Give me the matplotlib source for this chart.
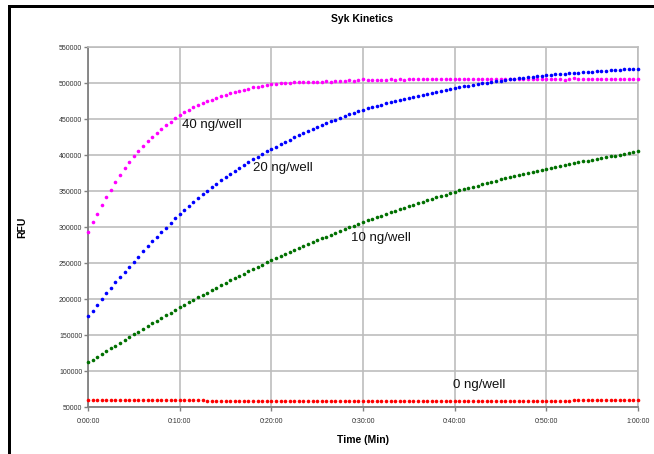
import matplotlib
matplotlib.use("Agg")
import matplotlib.pyplot as plt
from matplotlib.patches import Rectangle
import numpy as np

plt.rcParams["font.family"] = ["Liberation Sans", "DejaVu Sans"]

# reads every 30 s, 0..60 min
TIME_MIN = np.arange(121) * 0.5

RFU_40 = [
    293500, 306500, 318000, 330000, 341000, 352000, 362500, 372500, 381500, 390500,
    398000, 406000, 413000, 419500, 425500, 431000, 436000, 441000, 446500, 451500,
    456000, 460000, 463000, 466000, 469000, 472000, 474500, 477000, 479500, 481500,
    483500, 485500, 487500, 489000, 490500, 492000, 494000, 495000, 496000, 497500,
    498500, 499000, 499500, 500500, 500500, 501000, 501000, 501500, 501500, 501500,
    502000, 502000, 502500, 502000, 502500, 503000, 503000, 503500, 503000, 504500,
    505000, 503500, 504000, 504500, 504000, 504500, 505000, 504500, 505000, 504500,
    505000, 505500, 505000, 505500, 505000, 505500, 505000, 505500, 505500, 505000,
    505500, 505000, 505500, 505000, 505500, 505000, 506000, 505500, 506000, 505500,
    506000, 505500, 505000, 505500, 505500, 505000, 505500, 505000, 505500, 505000,
    506000, 505500, 505000, 505500, 504500, 505000, 506500, 506000, 505500, 506000,
    505500, 506000, 505500, 506000, 506000, 505500, 506000, 506000, 505500, 506000,
    506000,
]
RFU_20 = [
    176500, 184000, 192000, 200000, 208000, 215500, 223500, 231000, 238000, 245000,
    252000, 259000, 266000, 273000, 280000, 286000, 293000, 299000, 305500, 312000,
    317500, 323500, 329000, 334500, 340000, 345500, 350500, 355000, 360000, 365000,
    369500, 374000, 378000, 382500, 386000, 390000, 394000, 397500, 401500, 405000,
    408500, 411800, 415000, 418200, 421400, 424500, 427500, 430400, 433300, 436100,
    438900, 441600, 444200, 446700, 449200, 451600, 454000, 456300, 458500, 460600,
    462700, 464600, 466500, 468300, 470000, 471700, 473400, 475000, 476500, 478000,
    479500, 481000, 482400, 483800, 485200, 486600, 487900, 489200, 490500, 491700,
    492900, 494100, 495200, 496300, 497300, 498400, 499400, 500400, 501300, 502300,
    503200, 504000, 504900, 505700, 506500, 507200, 508000, 508700, 509400, 510000,
    510700, 511300, 511900, 512400, 513000, 513500, 514000, 514500, 515000, 515500,
    515900, 516400, 516800, 517200, 517600, 518000, 518400, 518800, 519200, 519600,
    520000,
]
RFU_10 = [
    112000, 115900, 119800, 123700, 127600, 131500, 135400, 139300, 143200, 147100,
    151000, 154800, 158500, 162300, 166000, 169800, 173500, 177300, 181000, 184800,
    188500, 191900, 195300, 198700, 202100, 205500, 208900, 212300, 215700, 219100,
    222500, 225700, 228800, 232000, 235100, 238300, 241400, 244600, 247700, 250900,
    254000, 256800, 259500, 262300, 265000, 267800, 270500, 273300, 276000, 278800,
    281500, 284100, 286600, 289200, 291700, 294300, 296800, 299400, 301900, 304500,
    307000, 309200, 311400, 313600, 315800, 318000, 320200, 322400, 324600, 326800,
    329000, 331000, 333000, 335000, 337000, 339000, 341000, 343000, 345000, 347000,
    349000, 350700, 352400, 354100, 355800, 357500, 359200, 360900, 362600, 364300,
    366000, 367500, 369000, 370500, 372000, 373500, 375000, 376500, 378000, 379500,
    381000, 382300, 383500, 384800, 386000, 387300, 388500, 389800, 391000, 392300,
    393500, 394700, 395800, 397000, 398100, 399300, 400400, 401600, 402700, 403900,
    405000,
]
RFU_0 = [
    60000, 60000, 60000, 60000, 60000, 60000, 60000, 60000, 60000, 60000,
    60000, 60000, 60000, 60000, 60000, 60000, 60000, 60000, 60000, 60000,
    60000, 60000, 60000, 60000, 60000, 60000, 59000, 59000, 59000, 59000,
    59000, 59000, 59000, 59000, 59000, 59000, 59000, 59000, 59000, 59000,
    59000, 59000, 59000, 59000, 59000, 59000, 59000, 59000, 59000, 59000,
    59000, 59000, 59000, 59000, 59000, 59000, 59000, 59000, 59000, 59000,
    59000, 59000, 59000, 59000, 59000, 59000, 59000, 59000, 59000, 59000,
    59000, 59000, 59000, 59000, 59000, 59000, 59000, 59000, 59000, 59000,
    59000, 59000, 59000, 59000, 59000, 59000, 59000, 59000, 59000, 59000,
    59000, 59000, 59000, 59000, 59000, 59000, 59000, 59000, 59000, 59000,
    59000, 59000, 59000, 59000, 59000, 59000, 59500, 60000, 60000, 60000,
    60000, 60000, 60000, 60000, 60000, 60000, 60000, 60000, 60000, 60000,
    60000,
]

SERIES = [
    ("40 ng/well", RFU_40, "#ff00ff", (10.25, 441700)),
    ("20 ng/well", RFU_20, "#0000ff", (18.0, 381900)),
    ("10 ng/well", RFU_10, "#007000", (28.7, 284700)),
    ("0 ng/well", RFU_0, "#ff0000", (39.8, 80600)),
]
X_TICKS = [0, 10, 20, 30, 40, 50, 60]
X_LABELS = ["0:00:00", "0:10:00", "0:20:00", "0:30:00", "0:40:00", "0:50:00", "1:00:00"]

W, H = 654, 454
fig = plt.figure(figsize=(W / 100, H / 100), dpi=100)
ax = fig.add_axes([88 / W, 1 - 407 / H, 550 / W, 360 / H])

for name, vals, color, (tx, ty) in SERIES:
    ax.plot(TIME_MIN, vals, ls="none", marker="o", ms=2.6, mew=0,
            color=color, clip_on=False, zorder=5)
    ax.text(tx, ty, name, fontsize=9.5, va="center", ha="left", color="#111111")

ax.set_xlim(0, 60)
ax.set_ylim(50000, 550000)
ax.set_xticks(X_TICKS)
ax.set_xticklabels(X_LABELS)
ax.set_yticks(range(50000, 550001, 50000))
ax.grid(True, color="#bdbdbd", lw=1.2)
ax.set_axisbelow(True)
for s in ("left", "bottom"):
    ax.spines[s].set_color("#808080")
    ax.spines[s].set_linewidth(1.3)
for s in ("top", "right"):
    ax.spines[s].set_color("#bdbdbd")
    ax.spines[s].set_linewidth(1.2)
ax.tick_params(axis="x", labelsize=5, length=3, width=1, color="#808080",
               labelcolor="#333333", pad=5)
ax.tick_params(axis="y", labelsize=5, length=3, width=1, color="#808080",
               labelcolor="#333333", pad=1)

fig.text(362 / W, 1 - 19 / H, "Syk Kinetics", ha="center", va="center",
         fontsize=7.5, fontweight="bold")
fig.text(363 / W, 1 - 440 / H, "Time (Min)", ha="center", va="center",
         fontsize=7.5, fontweight="bold")
fig.text(22 / W, 1 - 227 / H, "RFU", ha="center", va="center",
         fontsize=7.5, fontweight="bold", rotation=90)

# black frame edges (top and left only)
fig.add_artist(Rectangle((8 / W, 1 - 8 / H), 1, 3 / H, transform=fig.transFigure,
                         color="black", lw=0))
fig.add_artist(Rectangle((8 / W, 0), 3 / W, 1 - 5 / H, transform=fig.transFigure,
                         color="black", lw=0))

fig.savefig("out.png", dpi=100)
